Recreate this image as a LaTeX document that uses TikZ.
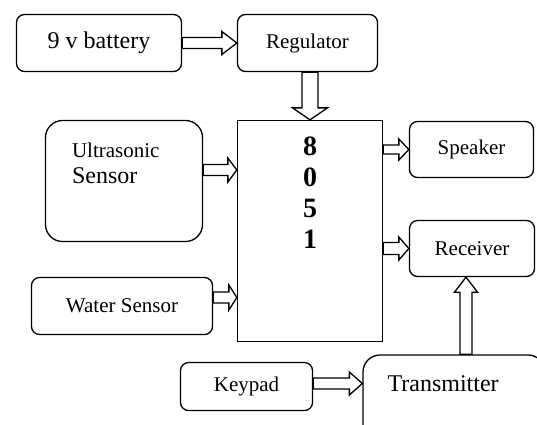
\documentclass[tikz,border=0pt]{standalone}
\usepackage{fontspec}
\setmainfont{Liberation Serif}
\usetikzlibrary{calc,positioning}
\tikzset{
  shaftw/.store in=\shaftw, headw/.store in=\headw, headl/.store in=\headl,
  shaftw=5.5pt, headw=11.5pt, headl=12pt
}
\begin{document}
\begin{tikzpicture}[x=1pt, y=-1pt,
  blk/.style={draw, line width=1.3pt, rounded corners=#1, inner sep=0pt,
              font=\fontsize{21}{25}\selectfont},
  blk/.default=8pt,
  hollow/.style={line width=1.3pt, to path={
    let \p1=(\tikztostart), \p2=(\tikztotarget),
        \n1={atan2(\y2-\y1,\x2-\x1)}, \n2={veclen(\x2-\x1,\y2-\y1)} in
    {[shift={(\p1)}, rotate=\n1]
      (0pt,-\shaftw) -- ({\n2*1pt-\headl},-\shaftw) -- ({\n2*1pt-\headl},-\headw)
      -- ({\n2*1pt},0pt) -- ({\n2*1pt-\headl},\headw) -- ({\n2*1pt-\headl},\shaftw)
      -- (0pt,\shaftw) -- cycle}}}
]
  \clip (0,0) rectangle (537,424);

  \node[blk, minimum width=165pt, minimum height=57pt, font=\fontsize{24}{28}\selectfont] (bat) at (99,43) {9 v battery\hspace{17pt}};
  \node[blk, minimum width=140pt, minimum height=57pt] (reg) at (307.5,43) {Regulator\hspace{9pt}};
  \node[draw, line width=1.3pt, minimum width=145pt, minimum height=221pt] (mcu) at (310,231) {};
  \node[below=17pt, inner sep=0pt, align=center, font=\fontsize{28}{31}\selectfont\bfseries] (chip) at (mcu.north) {8\\0\\5\\1};
  \node[blk, minimum width=124pt, minimum height=56pt] (spk) at (471.5,149.5) {Speaker};
  \node[blk, minimum width=125pt, minimum height=56pt] (rcv) at (472,248.5) {Receiver};
  \node[blk=17pt, minimum width=157pt, minimum height=121pt] (ult) at (124,181) {};
  \node[below right=23pt and 27pt of ult.north west, inner sep=0pt, align=left,
        font=\fontsize{21}{26}\selectfont] (ulttxt) {Ultrasonic\\{\fontsize{24}{26}\selectfont Sensor}};
  \node[blk, minimum width=181pt, minimum height=57pt] (wat) at (122,306) {Water Sensor\hspace{20pt}};
  \node[blk, minimum width=132pt, minimum height=48pt] (key) at (246.5,386.5) {Keypad\hspace{23pt}};
  \node[blk=17pt, minimum width=182pt, minimum height=90pt] (trn) at (454,400) {};
  \node[below right=21pt and 25pt of trn.north west, inner sep=0pt,
        font=\fontsize{24}{28}\selectfont] (trntxt) {Transmitter};

  % Hollow arrows
  \draw[hollow, headl=15pt] (bat.east) to (reg.west);
  \draw[hollow, shaftw=8pt, headw=17.5pt] (mcu.north |- reg.south) to (mcu.north);
  \draw[hollow, shaftw=4.5pt, headw=10.5pt, headl=10pt] (mcu.east |- spk.west) to (spk.west);
  \draw[hollow, headl=9pt, headw=12pt] ([yshift=11pt]ult.east) to ([yshift=11pt]ult.east -| mcu.west);
  \draw[hollow, headl=8pt, headw=12.5pt] ([yshift=8.5pt]wat.east) to ([yshift=8.5pt]wat.east -| mcu.west);
  \draw[hollow, shaftw=6pt, headl=10pt] (mcu.east |- rcv.west) to (rcv.west);
  \draw[hollow, shaftw=6pt, headl=15pt] ([xshift=-6pt]rcv.south |- trn.north) to ([xshift=-6pt]rcv.south);
  \draw[hollow, headl=13pt] ([yshift=3pt]key.east) to ([yshift=3pt]key.east -| trn.west);
\end{tikzpicture}
\end{document}
